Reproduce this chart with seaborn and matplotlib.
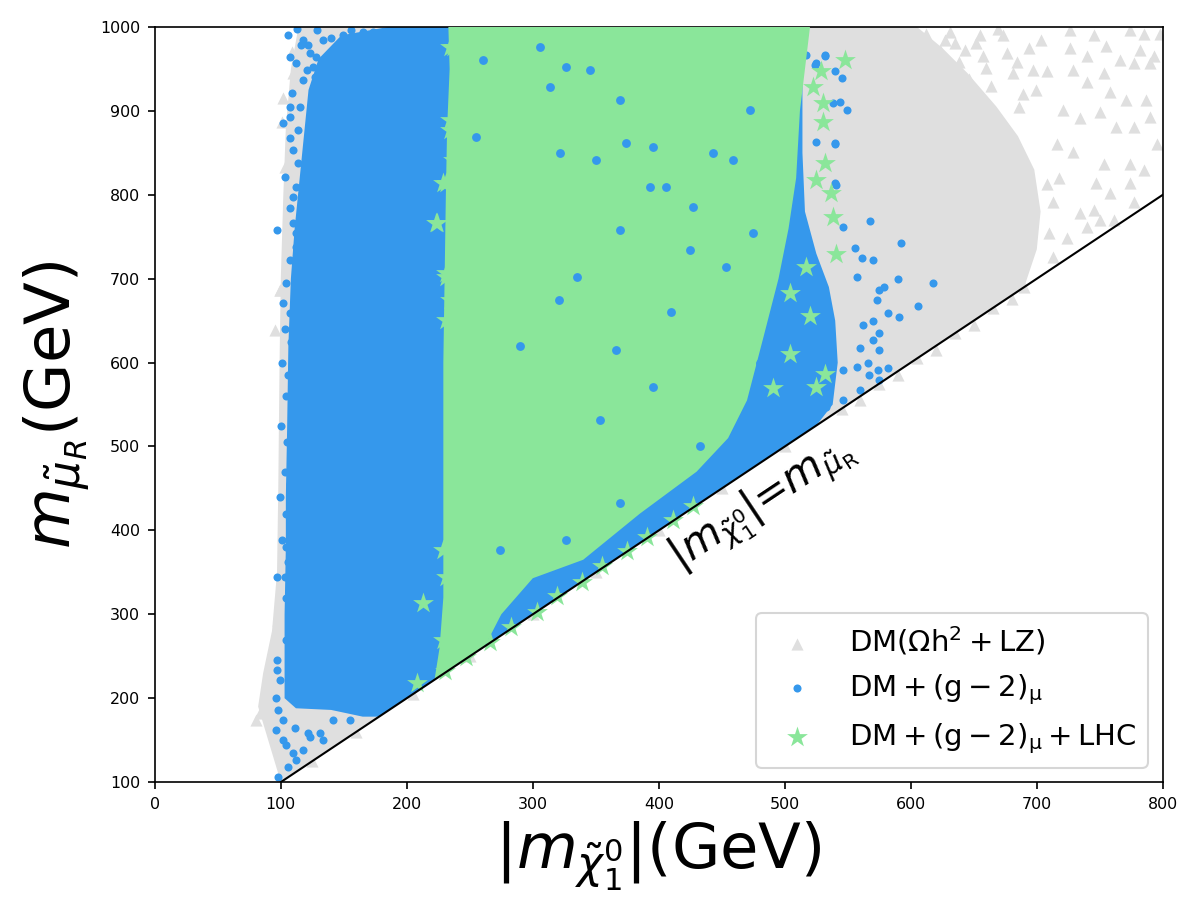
import numpy as np
import pandas as pd
import matplotlib
matplotlib.use("Agg")
import matplotlib.pyplot as plt
import seaborn as sns

# ---------------- data ----------------
# outline of the dense part of each point cloud
GRAY_CORE_X = [100, 690, 700, 703, 698, 685, 668, 645, 625, 605, 114, 108, 104, 102, 100, 99, 98, 97, 93, 86, 82, 88, 96]
GRAY_CORE_Y = [100, 690, 735, 780, 830, 870, 905, 945, 975, 1000, 1000, 950, 880, 800, 700, 600, 450, 350, 280, 230, 190, 160, 120]

BLUE_CORE_X = [103, 112, 140, 165, 178, 525, 538, 542, 540, 535, 525, 516, 514, 514, 185, 148, 130, 122, 119, 115, 111, 108, 106, 105, 104, 104, 103, 103]
BLUE_CORE_Y = [200, 188, 186, 178, 178, 525, 550, 600, 650, 690, 730, 780, 850, 1000, 1000, 990, 962, 925, 880, 820, 760, 700, 620, 520, 440, 380, 300, 250]

GREEN_CORE_X = [222, 262, 275, 300, 340, 385, 430, 455, 470, 483, 495, 503, 509, 512, 520, 233, 234, 232, 231, 230, 229, 229, 229, 229, 226]
GREEN_CORE_Y = [222, 262, 300, 343, 365, 420, 470, 510, 555, 630, 700, 760, 820, 900, 1000, 1000, 950, 880, 800, 700, 600, 500, 400, 320, 260]

# individual points outside the dense parts
GRAY_PTS_X = [108.5, 109.8, 101.9, 100.6, 103.2, 99.3, 120.4, 95, 99, 83.3, 88.6, 80.7, 87.3, 91.3, 99.3, 98,
              623, 627, 635, 643, 652, 657, 660, 673, 676, 681, 686, 694, 697, 699, 708, 716, 713, 718, 721,
              724, 726, 726, 729, 734, 740, 740, 745, 747, 750, 753, 753, 755, 758, 758, 763, 766, 771, 774,
              774, 774, 777, 777, 782, 785, 785, 787, 790, 790, 793, 795, 798, 710, 713, 734, 745, 750, 761,
              777, 729, 708, 740, 560, 590, 620, 650, 680,
              612, 618, 631, 638, 646, 664, 669, 684, 689, 703, 630, 655,
              125, 160, 205, 250, 300, 350, 400, 450, 500, 545, 575, 605, 635, 665, 690]
GRAY_PTS_Y = [970.6, 944.8, 915, 887.2, 833.5, 686.5, 996.4, 639, 687, 182, 205.8, 174.1, 186, 198, 261.5, 293.3,
              973, 985, 981, 973, 981, 965, 951, 990, 969, 945, 905, 975, 949, 925, 947, 861, 792, 820, 901,
              748, 996, 975, 949, 891, 965, 935, 990, 814, 899, 945, 837, 977, 923, 802, 881, 961, 913, 996,
              837, 814, 957, 881, 973, 992, 830, 913, 957, 893, 965, 861, 992, 754, 726, 778, 782, 770, 770,
              792, 851, 813, 762, 556, 585, 615, 645, 676,
              992, 962, 994, 958, 938, 930, 998, 958, 920, 985, 955, 990,
              125, 160, 205, 250, 300, 350, 400, 450, 500, 545, 575, 605, 635, 665, 690]

BLUE_PTS_X = [105.8, 107.1, 112.4, 121.7, 123, 128.3, 133.6, 140.2, 149.5, 156.1, 165.3, 173.3, 185.2, 117.7,
              120.4, 125.7, 133.6, 140.2, 108.5, 115.1, 107.1, 101.9, 107.1, 113.8, 107.1, 109.8, 113.8, 103.2,
              112.4, 109.8, 107.1, 109.8, 96.6, 112.4, 112.4, 107.1, 112.4, 104.5, 101.9, 107.1,
              100.6, 104.5, 96.6, 103.2, 105.8, 104.5, 104.5, 96.6, 96.6, 99.3, 95.9, 98, 101.9, 95.9, 101.9,
              104.5, 109.8, 117.7, 121.7, 131, 133.6, 141.5, 154.8, 98, 112.4, 123,
              103, 108, 101, 106, 104, 109, 100, 105, 111, 103, 107, 99, 104, 110,
              116, 129, 146, 160, 176, 113, 118, 127, 144, 152, 168, 106, 111,
              568, 592, 618, 606, 590, 579, 570, 549, 545, 532, 540, 544, 525, 541, 546, 556, 561, 575, 557,
              573, 582, 591, 570, 562, 575, 570, 560, 575, 566, 557, 546, 574, 582, 567, 575, 560, 546, 533,
              517, 524, 532, 540, 538, 540, 540, 525]
BLUE_PTS_Y = [990.5, 964.6, 956.7, 978.6, 968.6, 964.6, 984.6, 986.5, 990.5, 996.4, 994.4, 994.4, 992.5, 936.8,
              948.7, 952.7, 956.7, 944.8, 920.9, 905, 905, 885.2, 893.1, 877.2, 867.3, 853.4, 837.5, 821.6,
              809.7, 797.8, 783.9, 766, 758.1, 754, 738.2, 722.3, 706.4, 694.5, 670.6, 658.7,
              388.6, 380.6, 344.9, 344.9, 362.7, 319.1, 269.4, 245.6, 233.7, 221.7, 199.9, 186, 174.1, 162.2,
              150.3, 144.3, 134.4, 138.4, 158.2, 158.2, 150.3, 174.1, 174.1, 106.6, 126.5, 154.3,
              640, 625, 600, 585, 560, 545, 525, 505, 490, 470, 455, 440, 420, 405,
              978, 996, 978, 984, 986, 998, 985, 940, 970, 960, 975, 118, 165,
              769, 743, 695, 667, 700, 690, 722, 901, 939, 965, 862, 911, 957, 812, 762, 737, 725, 687, 702,
              675, 659, 654, 649, 645, 635, 627, 617, 615, 600, 595, 591, 591, 594, 585, 579, 567, 555, 547,
              967, 955, 967, 947, 909, 861, 814, 863]

# blue points seen through gaps of the green cloud
BLUE_GAP_X = [326.7, 345.2, 374.3, 395.5, 321.4, 443.1, 459, 334.7, 427.2, 406.1, 392.9, 472.2, 474.9,
              453.7, 255.3, 260.6, 305.6, 350.5, 369, 313.5, 395.5, 366.4, 432.5, 369, 326.7, 273.8,
              369, 425, 321, 353, 290, 410, 480, 500]
BLUE_GAP_Y = [952.7, 948.7, 861.4, 857.4, 849.4, 849.4, 841.5, 702.4, 785.8, 809.7, 809.7, 901.1, 754,
              714.3, 869.3, 960.7, 976.5, 841.5, 913, 928.9, 571.3, 615, 500, 432.3, 388.6, 376.7,
              758, 734, 675, 532, 620, 660, 600, 650]

GREEN_PTS_X = [548, 529, 522, 530, 530, 532, 525, 537, 538, 541, 532, 525, 520, 504, 517,
               234, 223.6, 228.8, 234, 231.5, 234, 223.5, 231.5, 236.8, 234, 236.8, 231.5, 231.5,
               213, 207.7, 228.8, 231.5, 228.8,
               230, 247, 266, 283, 303, 319, 339, 355, 375, 391, 411, 427, 491, 504]
GREEN_PTS_Y = [961, 947, 929, 909, 887, 838, 818, 802, 774, 730, 587, 571, 655, 683, 714,
               976.5, 766, 813.7, 889, 706.5, 674.6, 766, 813.7, 976.5, 877, 841.5, 702.4, 650.8,
               313, 217.8, 376.7, 344.8, 269,
               232, 249, 267, 285, 303, 322, 339, 357, 376, 392, 412, 429, 570, 610]

DIAG_X = [100, 800]
DIAG_Y = [100, 800]

X_TICKS = [0, 100, 200, 300, 400, 500, 600, 700, 800]
Y_TICKS = [100, 200, 300, 400, 500, 600, 700, 800, 900, 1000]

LABELS = [r"$\rm DM(\Omega h^2+LZ)$",
          r"$\rm DM+(g-2)_{\mu}$",
          r"$\rm DM+(g-2)_{\mu}+LHC$"]

GRAY = "#dfdfdf"
BLUE = "#3598ec"
GREEN = "#8ae69a"

# ---------------- figure ----------------
fig = plt.figure(figsize=(8, 6), dpi=150)
ax = fig.add_axes([0.129, 0.131, 0.840, 0.839])

gray_df = pd.DataFrame({"x": GRAY_PTS_X, "y": GRAY_PTS_Y})
blue_df = pd.DataFrame({"x": BLUE_PTS_X, "y": BLUE_PTS_Y})
gap_df = pd.DataFrame({"x": BLUE_GAP_X, "y": BLUE_GAP_Y})
green_df = pd.DataFrame({"x": GREEN_PTS_X, "y": GREEN_PTS_Y})

ax.fill(GRAY_CORE_X, GRAY_CORE_Y, color=GRAY, lw=0, zorder=1)
sns.scatterplot(data=gray_df, x="x", y="y", marker="^", s=34, color=GRAY,
                linewidth=0, ax=ax, label=LABELS[0], zorder=1.5)

ax.fill(BLUE_CORE_X, BLUE_CORE_Y, color=BLUE, lw=0, zorder=2)
sns.scatterplot(data=blue_df, x="x", y="y", marker="o", s=15, color=BLUE,
                linewidth=0, ax=ax, label=LABELS[1], zorder=2.5)

ax.fill(GREEN_CORE_X, GREEN_CORE_Y, color=GREEN, lw=0, zorder=3)
sns.scatterplot(data=gap_df, x="x", y="y", marker="o", s=18, color=BLUE,
                linewidth=0, ax=ax, legend=False, zorder=3.2)
sns.scatterplot(data=green_df, x="x", y="y", marker="*", s=110, color=GREEN,
                linewidth=0, ax=ax, label=LABELS[2], zorder=3.5)

ax.plot(DIAG_X, DIAG_Y, color="black", lw=1.0, zorder=4)

ax.text(482, 432, r"$|m_{\tilde{\chi}_1^0}|$=$m_{\tilde{\mu}_{\rm R}}$", fontsize=20,
        rotation=33.7, ha="center", va="center", rotation_mode="anchor", zorder=5)

ax.set_xlim(0, 800)
ax.set_ylim(100, 1000)
ax.set_xticks(X_TICKS)
ax.set_yticks(Y_TICKS)
ax.tick_params(labelsize=7.6)
ax.set_xlabel(r"$|m_{\tilde{\chi}_1^0}|$(GeV)", fontsize=30)
ax.set_ylabel(r"$m_{\tilde{\mu}_R}$(GeV)", fontsize=30)

ax.legend(loc="lower right", fontsize=14)

fig.savefig("out.png", dpi=150)
